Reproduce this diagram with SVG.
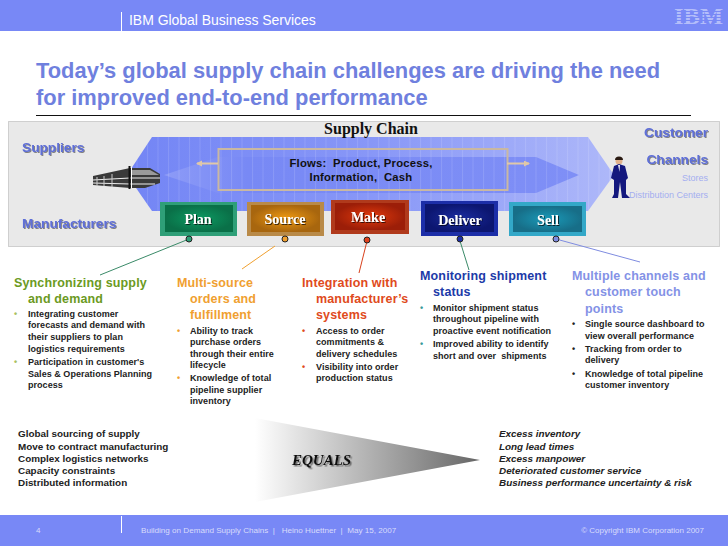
<svg xmlns="http://www.w3.org/2000/svg" width="728" height="546" viewBox="0 0 728 546">
<style>
text{font-family:"Liberation Sans",Arial,sans-serif}
.bar{fill:#7888f6}
.h{font-size:12.5px;font-weight:bold;letter-spacing:.15px}
.b{font-size:9px;font-weight:bold;fill:#222;letter-spacing:.04px}
.low{font-size:9.9px;font-weight:bold;fill:#222}
.btn{font-family:"Liberation Serif",serif;font-size:14px;font-weight:bold;fill:#fff;text-anchor:middle;filter:url(#sh)}
.pl{font-size:13.700px;font-weight:bold;fill:#5f6fd8;filter:url(#sh2)}
.g{stroke:#fff;fill:none;stroke-width:1}
.dot{stroke:#222;stroke-width:1}
.con{fill:none;stroke-width:1}
.bu{font-size:9px;font-weight:bold}
</style>
<defs>
<linearGradient id="band" x1="0" x2="1" y1="0" y2="0"><stop offset="0" stop-color="#7385f5"/><stop offset=".5" stop-color="#8897f7"/><stop offset="1" stop-color="#aeb8f9"/></linearGradient>
<linearGradient id="inner" x1="0" x2="1" y1="0" y2="0"><stop offset="0" stop-color="#8d9bf7"/><stop offset=".2" stop-color="#7889f5"/><stop offset="1" stop-color="#7f8ff6"/></linearGradient>
<linearGradient id="tri" x1="0" x2="1" y1="0" y2="0"><stop offset="0" stop-color="#fff"/><stop offset="1" stop-color="#666"/></linearGradient>
<radialGradient id="pg"><stop offset="0" stop-color="#0c9a62"/><stop offset="1" stop-color="#0a7048"/></radialGradient>
<radialGradient id="sg"><stop offset="0" stop-color="#f09a12"/><stop offset="1" stop-color="#a8660e"/></radialGradient>
<radialGradient id="mg"><stop offset="0" stop-color="#e23a0c"/><stop offset="1" stop-color="#9c1e08"/></radialGradient>
<radialGradient id="dg"><stop offset="0" stop-color="#1a2ca0"/><stop offset="1" stop-color="#0c1670"/></radialGradient>
<radialGradient id="lg"><stop offset="0" stop-color="#1a9ab8"/><stop offset="1" stop-color="#176e88"/></radialGradient>
<pattern id="stripes" width="10.500" height="10" patternUnits="userSpaceOnUse"><rect x="0" y="0" width="1" height="10" fill="#fff" opacity=".12"/></pattern>
<filter id="sh" x="-20%" y="-30%" width="140%" height="160%"><feDropShadow dx="1" dy="1" stdDeviation=".4" flood-color="#000" flood-opacity=".7"/></filter>
<filter id="sh2" x="-10%" y="-30%" width="120%" height="160%"><feDropShadow dx="1" dy="1" stdDeviation=".4" flood-color="#555" flood-opacity=".7"/></filter>
<filter id="sh3" x="-10%" y="-30%" width="120%" height="160%"><feDropShadow dx="1.500" dy="1.500" stdDeviation=".6" flood-color="#444" flood-opacity=".7"/></filter>
<marker id="ar" markerWidth="7" markerHeight="7" refX="5" refY="3" orient="auto-start-reverse" markerUnits="userSpaceOnUse"><path d="M0 0L6 3L0 6z" fill="#e0c8a8"/></marker>
</defs>
<rect width="728" height="546" fill="#fff"/>
<g id="header">
<rect class="bar" x="0" y="0" width="728" height="31"/>
<line class="g" x1="121.5" y1="12" x2="121.5" y2="31"/>
<text x="129" y="25" font-size="14" fill="#fff" letter-spacing="-.03">IBM Global Business Services</text>
<text x="674" y="24" font-size="23" font-weight="bold" fill="#b4bdfa" textLength="49" lengthAdjust="spacingAndGlyphs" style="font-family:'Liberation Serif',serif">IBM</text>
<path d="M672 8.500H725M672 11.500H725M672 14.500H725M672 17.500H725M672 20.500H725" stroke="#7888f6" stroke-width="1"/>
</g>
<g id="title">
<text x="36" y="78" font-size="21.900" font-weight="bold" fill="#6f80de">Today’s global supply chain challenges are driving the need</text>
<text x="36" y="105" font-size="21.900" font-weight="bold" fill="#6f80de">for improved end-to-end performance</text>
<line x1="36" y1="115.5" x2="691" y2="115.5" stroke="#111"/>
</g>
<g id="panel">
<rect x="8.5" y="121.5" width="711" height="125" fill="#e9e9e9" stroke="#aaa" stroke-dasharray="1 1"/>
<path d="M152 137H588L614 175L588 211H152L127 175z" fill="url(#band)"/>
<path d="M164 175L218 157H536L579 175L536 193H218z" fill="url(#inner)"/>
<path d="M152 137H588L614 175L588 211H152L127 175z" fill="url(#stripes)"/>
<rect x="218.500" y="149" width="289" height="41" fill="none" stroke="#c9b8a2" stroke-width="2"/>
<line x1="218" y1="163.500" x2="197" y2="163.500" stroke="#e0c8a8" stroke-width="2" marker-end="url(#ar)"/>
<line x1="507" y1="163.500" x2="529" y2="163.500" stroke="#e0c8a8" stroke-width="2" marker-end="url(#ar)"/>
<text x="361" y="167" text-anchor="middle" font-size="11.300" font-weight="bold" fill="#111" letter-spacing=".2" xml:space="preserve">Flows:  Product, Process,</text>
<text x="361" y="181" text-anchor="middle" font-size="11.300" font-weight="bold" fill="#111" letter-spacing=".2" xml:space="preserve">Information,  Cash</text>
<text x="371" y="134" text-anchor="middle" font-size="16" font-weight="bold" fill="#111" style="font-family:'Liberation Serif',serif">Supply Chain</text>
<text class="pl" x="22" y="152">Suppliers</text>
<text class="pl" x="22" y="228">Manufacturers</text>
<text class="pl" x="708" y="137" text-anchor="end">Customer</text>
<text class="pl" x="708" y="164" text-anchor="end">Channels</text>
<text x="708" y="181" text-anchor="end" font-size="9" fill="#a4aef0">Stores</text>
<text x="708" y="198" text-anchor="end" font-size="9" fill="#a4aef0">Distribution Centers</text>
</g>
<g id="factory">
<path d="M93 176L130 168L150 168L160 174V183L145 188H130L93 185z" fill="#3a3a3a"/>
<path d="M132 170H150L159 175H132z" fill="#9a9a9a"/>
<path d="M93 180L130 178H160M93 183L130 184H155" stroke="#eee" stroke-width="1" fill="none"/>
<path d="M97 177V186M104 176V186M112 174V187" stroke="#ccc" fill="none"/>
<path d="M129.500 166V189" stroke="#111" stroke-width="2"/>
<path d="M131.500 167V188" stroke="#fff" stroke-width="1"/>
</g>
<g id="person">
<circle cx="619" cy="161" r="3.500" fill="#e2b28c"/>
<path d="M615 160A4 3.500 0 0 1 623 160z" fill="#2a1a12"/>
<path d="M614 166L619 164L625 166L628 178L626 180V194L630 198H622L620 182L618 198H612L614 194V180L611 178z" fill="#14187e"/>
<path d="M618 165H620L619.500 172z" fill="#e6e6f5"/>
</g>
<g id="plan"><rect x="160" y="202" width="77" height="34" fill="#2f9f78"/><rect x="165" y="205" width="68" height="27" fill="url(#pg)"/><text class="btn" x="198" y="224">Plan</text></g>
<g id="source"><rect x="247" y="202" width="77" height="34" fill="#b98a48"/><rect x="251" y="205" width="69" height="27" fill="url(#sg)"/><text class="btn" x="285" y="224">Source</text></g>
<g id="make"><rect x="331" y="200" width="78" height="34" fill="#b03a1c"/><rect x="335" y="203" width="70" height="27" fill="url(#mg)"/><text class="btn" x="368" y="222">Make</text></g>
<g id="deliver"><rect x="421" y="201" width="77" height="35" fill="#1c2ea8"/><rect x="425" y="204" width="69" height="28" fill="url(#dg)"/><text class="btn" x="460" y="225">Deliver</text></g>
<g id="sell"><rect x="509" y="202" width="77" height="34" fill="#33a8c8"/><rect x="513" y="206" width="69" height="26" fill="url(#lg)"/><text class="btn" x="548" y="225">Sell</text></g>
<g id="connectors">
<line class="con" x1="189" y1="239" x2="100" y2="275" stroke="#3a8a68"/>
<line class="con" x1="275" y1="246" x2="242" y2="269" stroke="#f0a030"/>
<line class="con" x1="367" y1="241" x2="359" y2="273" stroke="#d8401c"/>
<line class="con" x1="460" y1="241" x2="469" y2="270" stroke="#3a8a68"/>
<line class="con" x1="556" y1="239" x2="640" y2="262" stroke="#7f8ce0"/>
<circle class="dot" cx="189" cy="239" r="3" fill="#2f9f78"/>
<circle class="dot" cx="285" cy="239" r="3" fill="#f0a030"/>
<circle class="dot" cx="367" cy="240" r="3" fill="#e0401c"/>
<circle class="dot" cx="460" cy="239" r="3" fill="#1c2ea8"/>
<circle class="dot" cx="556" cy="239" r="3" fill="#7f8ce0"/>
</g>
<g id="col-sync" fill="#6b9a22">
<text class="h" x="14" y="287">Synchronizing supply</text>
<text class="h" x="28" y="303">and demand</text>
<text class="b" x="28" y="317">Integrating customer</text><text class="b" x="28" y="328">forecasts and demand with</text><text class="b" x="28" y="340">their suppliers to plan</text><text class="b" x="28" y="352">logistics requirements</text><text class="b" x="28" y="365">Participation in customer's</text><text class="b" x="28" y="377">Sales &amp; Operations Planning</text><text class="b" x="28" y="388">process</text>
<text class="bu" x="14" y="317" fill="#a8c060">•</text><text class="bu" x="14" y="365" fill="#a8c060">•</text>
</g>
<g id="col-source" fill="#f0a030">
<text class="h" x="177" y="287">Multi-source</text><text class="h" x="190" y="303">orders and</text><text class="h" x="190" y="319">fulfillment</text>
<text class="b" x="190" y="334">Ability to track</text><text class="b" x="190" y="345">purchase orders</text><text class="b" x="190" y="357">through their entire</text><text class="b" x="190" y="368">lifecycle</text><text class="b" x="190" y="381">Knowledge of total</text><text class="b" x="190" y="393">pipeline supplier</text><text class="b" x="190" y="404">inventory</text>
<text class="bu" x="177" y="334">•</text><text class="bu" x="177" y="381">•</text>
</g>
<g id="col-make" fill="#e04a20">
<text class="h" x="302" y="287">Integration with</text><text class="h" x="316" y="303">manufacturer’s</text><text class="h" x="316" y="319">systems</text>
<text class="b" x="316" y="334">Access to order</text><text class="b" x="316" y="345">commitments &amp;</text><text class="b" x="316" y="357">delivery schedules</text><text class="b" x="316" y="370">Visibility into order</text><text class="b" x="316" y="381">production status</text>
<text class="bu" x="302" y="334">•</text><text class="bu" x="302" y="370">•</text>
</g>
<g id="col-deliver" fill="#1c3aa8">
<text class="h" x="420" y="280">Monitoring shipment</text><text class="h" x="433" y="296">status</text>
<text class="b" x="433" y="311">Monitor shipment status</text><text class="b" x="433" y="322">throughout pipeline with</text><text class="b" x="433" y="334">proactive event notification</text><text class="b" x="433" y="347">Improved ability to identify</text><text class="b" x="433" y="359" xml:space="preserve">short and over  shipments</text>
<text class="bu" x="420" y="311" fill="#3a9a9a">•</text><text class="bu" x="420" y="347" fill="#3a9a9a">•</text>
</g>
<g id="col-sell" fill="#8492e6">
<text class="h" x="572" y="280">Multiple channels and</text><text class="h" x="585" y="296">customer touch</text><text class="h" x="585" y="313">points</text>
<text class="b" x="585" y="327">Single source dashboard to</text><text class="b" x="585" y="339">view overall performance</text><text class="b" x="585" y="352">Tracking from order to</text><text class="b" x="585" y="363">delivery</text><text class="b" x="585" y="377">Knowledge of total pipeline</text><text class="b" x="585" y="388">customer inventory</text>
<text class="bu" x="572" y="327" fill="#222">•</text><text class="bu" x="572" y="352" fill="#222">•</text><text class="bu" x="572" y="377" fill="#222">•</text>
</g>
<g id="causes">
<text class="low" x="18" y="437">Global sourcing of supply</text><text class="low" x="18" y="450">Move to contract manufacturing</text><text class="low" x="18" y="462">Complex logistics networks</text><text class="low" x="18" y="474">Capacity constraints</text><text class="low" x="18" y="486">Distributed information</text>
</g>
<g id="equals">
<path d="M255 418L480 460L255 502z" fill="url(#tri)"/>
<text x="292" y="465" font-size="15" font-weight="bold" font-style="italic" fill="#111" style="font-family:'Liberation Serif',serif;filter:url(#sh3)">EQUALS</text>
</g>
<g id="effects" font-style="italic">
<text class="low" x="499" y="437">Excess inventory</text><text class="low" x="499" y="450">Long lead times</text><text class="low" x="499" y="462">Excess manpower</text><text class="low" x="499" y="474">Deteriorated customer service</text><text class="low" x="499" y="486">Business performance uncertainty &amp; risk</text>
</g>
<g id="footer">
<rect class="bar" x="0" y="515" width="728" height="31"/>
<line class="g" x1="121.5" y1="516" x2="121.5" y2="533"/>
<text x="36" y="533" font-size="8" fill="#d8dcfb">4</text>
<text x="141" y="533" font-size="8.100" fill="#d8dcfb" xml:space="preserve">Building on Demand Supply Chains  |   Heino Huettner  |  May 15, 2007</text>
<text x="704" y="533" text-anchor="end" font-size="8" fill="#d8dcfb">© Copyright IBM Corporation 2007</text>
</g>
</svg>
